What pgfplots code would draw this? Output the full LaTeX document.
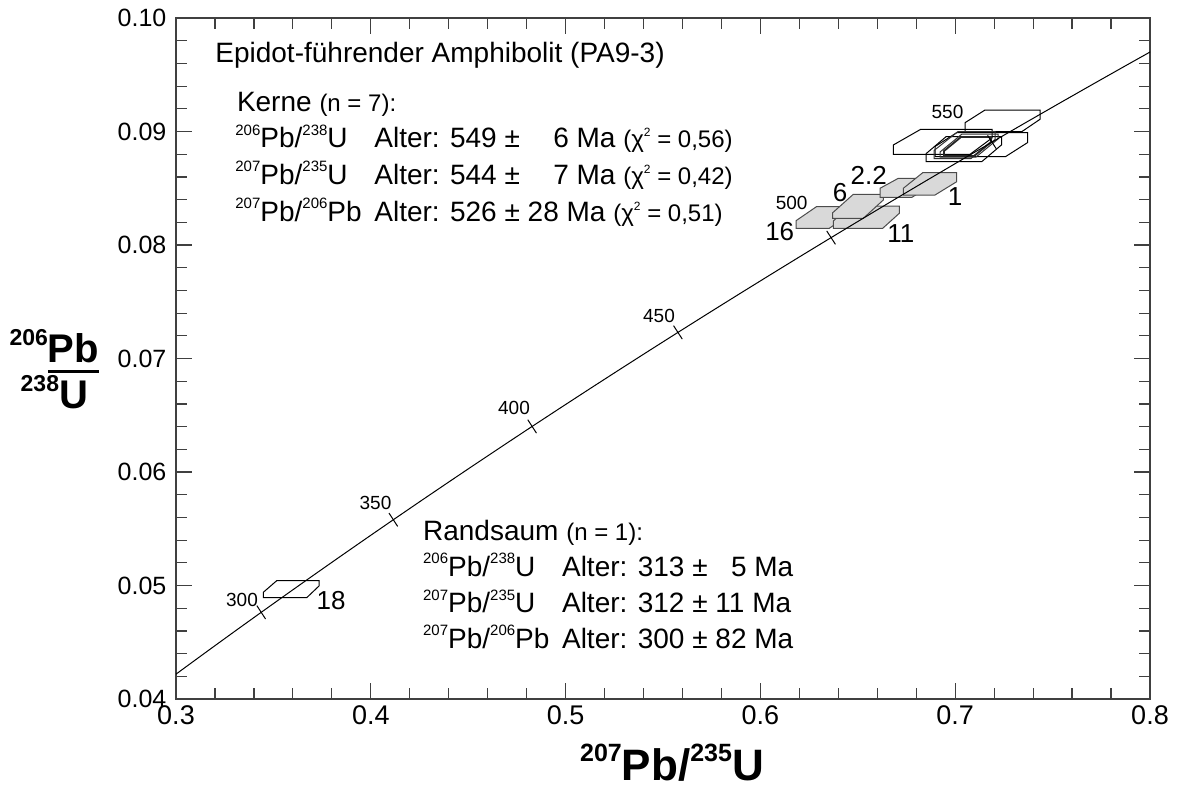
\documentclass[border=0pt]{standalone}
\usepackage{pgfplots}
\pgfplotsset{compat=1.18}
\usepackage{fontspec}
\setmainfont{Liberation Sans}
\newcommand{\mfont}{\fontsize{14}{16}\selectfont}
\newcommand{\sfont}{\fontsize{12}{14}\selectfont}
\newcommand{\su}[1]{\raisebox{0.45em}{\fontsize{7.5}{7.5}\selectfont #1}}
\newcommand{\iso}[3]{\makebox[69.5pt][l]{\su{#1}Pb/\su{#2}#3}}
\newcommand{\chisq}[1]{{\sfont (χ\raisebox{0.45em}{\fontsize{6}{6}\selectfont 2} = #1)}}
\newcommand{\agefont}{\fontsize{9.5}{11}\selectfont}
\newcommand{\boxfont}{\fontsize{13}{15}\selectfont}
\begin{document}
\begin{tikzpicture}
\useasboundingbox (0,0) rectangle (588.5pt,394.5pt);
\begin{axis}[
  at={(88pt,45pt)}, anchor=south west,
  width=487pt, height=340.5pt, scale only axis,
  xmin=0.3, xmax=0.8, ymin=0.04, ymax=0.10,
  xtick={0.3,0.4,0.5,0.6,0.7,0.8},
  xticklabels={0.3,0.4,0.5,0.6,0.7,0.8},
  ytick={0.04,0.05,0.06,0.07,0.08,0.09,0.10},
  yticklabels={0.04,0.05,0.06,0.07,0.08,0.09,0.10},
  minor x tick num=4, minor y tick num=4,
  tick align=inside, xtick pos=both, ytick pos=both,
  major tick length=7.8pt, minor tick length=5.3pt,
  axis line style={black!75, line width=0.7pt},
  every tick/.style={black!75, line width=0.6pt},
  yticklabel style={font=\fontsize{12.5}{14}\selectfont, xshift=-1.3pt},
  xticklabel style={font=\fontsize{13.5}{15}\selectfont},
]
% grey error boxes
\addplot[draw=black!70, fill=black!15, line width=0.5pt, mark=none] coordinates {(0.62890,0.083392) (0.64600,0.083392) (0.64600,0.082722) (0.63537,0.081471) (0.61828,0.081471) (0.61828,0.082141)} -- cycle;
\addplot[draw=black!70, fill=black!15, line width=0.5pt, mark=none] coordinates {(0.64594,0.083436) (0.67130,0.083436) (0.67130,0.082793) (0.66278,0.081471) (0.63742,0.081471) (0.63742,0.082115)} -- cycle;
\addplot[draw=black!70, fill=black!15, line width=0.5pt, mark=none] coordinates {(0.64769,0.084467) (0.66309,0.084467) (0.66309,0.083965) (0.65282,0.082352) (0.63712,0.082352) (0.63712,0.082846)} -- cycle;
\addplot[draw=black!70, fill=black!15, line width=0.5pt, mark=none] coordinates {(0.67079,0.085877) (0.68706,0.085877) (0.68706,0.085198) (0.67782,0.084203) (0.66140,0.084203) (0.66140,0.084996)} -- cycle;
\addplot[draw=black!70, fill=black!15, line width=0.5pt, mark=none] coordinates {(0.68332,0.086370) (0.70077,0.086370) (0.70077,0.085577) (0.68963,0.084405) (0.67336,0.084405) (0.67336,0.084996)} -- cycle;
% white error boxes
\addplot[draw=black, line width=0.5pt, mark=none] coordinates {(0.71530,0.091894) (0.74353,0.091894) (0.74353,0.091075) (0.73414,0.089982) (0.70503,0.089982) (0.70503,0.090775)} -- cycle;
\addplot[draw=black, line width=0.5pt, mark=none] coordinates {(0.68229,0.090194) (0.71889,0.090194) (0.71889,0.089427) (0.70760,0.087991) (0.66822,0.087991) (0.66822,0.088811)} -- cycle;
\addplot[draw=black, line width=0.5pt, mark=none] coordinates {(0.70092,0.089912) (0.73722,0.089912) (0.73722,0.089031) (0.72592,0.087797) (0.68963,0.087797) (0.68963,0.088678)} -- cycle;
\addplot[draw=black, line width=0.5pt, mark=none] coordinates {(0.69528,0.089542) (0.72387,0.089542) (0.72387,0.088837) (0.71360,0.087339) (0.68501,0.087339) (0.68501,0.088044)} -- cycle;
\addplot[draw=black!80, line width=0.5pt, mark=none] coordinates {(0.70144,0.090000) (0.72043,0.090000) (0.72043,0.089295) (0.70811,0.087621) (0.68912,0.087621) (0.68912,0.088326)} -- cycle;
\addplot[draw=black!80, line width=0.5pt, mark=none] coordinates {(0.70349,0.089780) (0.72197,0.089780) (0.72197,0.089339) (0.71068,0.087753) (0.69220,0.087753) (0.69220,0.088194)} -- cycle;
\addplot[draw=black!85, line width=0.9pt, mark=none] coordinates {(0.70298,0.089515) (0.71838,0.089515) (0.71838,0.089075) (0.70965,0.087841) (0.69425,0.087841) (0.69425,0.088282)} -- cycle;
% rim
\addplot[draw=black, line width=0.5pt, mark=none] coordinates {(0.35169,0.050423) (0.37341,0.050423) (0.37341,0.049956) (0.36709,0.048925) (0.34482,0.048925) (0.34482,0.049401)} -- cycle;
% concordia
\addplot[black, line width=0.5pt, mark=none] coordinates {(0.29183,0.041157) (0.30462,0.042773) (0.31753,0.044392) (0.33057,0.046014) (0.34374,0.047637) (0.35704,0.049264) (0.37047,0.050893) (0.38403,0.052524) (0.39773,0.054158) (0.41156,0.055795) (0.42553,0.057434) (0.43964,0.059075) (0.45389,0.060720) (0.46828,0.062366) (0.48281,0.064016) (0.49749,0.065667) (0.51231,0.067322) (0.52728,0.068979) (0.54239,0.070638) (0.55766,0.072300) (0.57307,0.073965) (0.58864,0.075632) (0.60437,0.077302) (0.62024,0.078975) (0.63628,0.080650) (0.65248,0.082327) (0.66883,0.084008) (0.68535,0.085691) (0.70203,0.087376) (0.71887,0.089064) (0.73588,0.090755) (0.75306,0.092448) (0.77041,0.094144) (0.78794,0.095843) (0.80563,0.097544)};
% age ticks
\addplot[only marks, mark=|, mark size=4pt, mark options={rotate=33, line width=0.5pt, black}] coordinates {(0.34374,0.047637) (0.41156,0.055795) (0.48281,0.064016) (0.55766,0.072300) (0.63628,0.080650) (0.71887,0.089064)};
% age labels
\node[font=\agefont] at (axis cs:0.33388,0.048767) {300};
\node[font=\agefont] at (axis cs:0.40241,0.057242) {350};
\node[font=\agefont] at (axis cs:0.47351,0.065612) {400};
\node[font=\agefont] at (axis cs:0.54795,0.073744) {450};
\node[font=\agefont] at (axis cs:0.61607,0.083718) {500};
\node[font=\agefont] at (axis cs:0.69605,0.091762) {550};
% spot labels
\node[font=\boxfont] at (axis cs:0.37957,0.048678) {18};
\node[font=\boxfont] at (axis cs:0.60991,0.081172) {16};
\node[font=\boxfont] at (axis cs:0.64086,0.084626) {6};
\node[font=\boxfont] at (axis cs:0.65565,0.086167) {2.2};
\node[font=\boxfont] at (axis cs:0.67207,0.081031) {11};
\node[font=\boxfont] at (axis cs:0.69990,0.084229) {1};
\end{axis}
% texts
\node[anchor=base west, inner sep=0pt, font=\mfont] at (107.5pt,363pt) {Epidot-führender Amphibolit (PA9-3)};
\node[anchor=base west, inner sep=0pt, font=\mfont] at (118.3pt,338.65pt) {Kerne {\sfont (n = 7):}};
\node[anchor=base west, inner sep=0pt, font=\mfont] at (117.5pt,320.65pt) {\iso{206}{238}{U}Alter: 549 ± \phantom{2}\hspace{5pt}6 Ma \chisq{0,56}};
\node[anchor=base west, inner sep=0pt, font=\mfont] at (117.5pt,302.35pt) {\iso{207}{235}{U}Alter: 544 ± \phantom{2}\hspace{5pt}7 Ma \chisq{0,42}};
\node[anchor=base west, inner sep=0pt, font=\mfont] at (117.5pt,284pt) {\iso{207}{206}{Pb}Alter: 526 ± 28 Ma \chisq{0,51}};
\node[anchor=base west, inner sep=0pt, font=\mfont] at (211.35pt,124.5pt) {Randsaum {\sfont (n = 1):}};
\node[anchor=base west, inner sep=0pt, font=\mfont] at (211.35pt,106.5pt) {\iso{206}{238}{U}Alter: 313 ± \phantom{1}5 Ma};
\node[anchor=base west, inner sep=0pt, font=\mfont] at (211.35pt,88.15pt) {\iso{207}{235}{U}Alter: 312 ± 11 Ma};
\node[anchor=base west, inner sep=0pt, font=\mfont] at (211.35pt,70.35pt) {\iso{207}{206}{Pb}Alter: 300 ± 82 Ma};
% axis labels
\node[anchor=base, inner sep=0pt, font=\bfseries\fontsize{22}{22}\selectfont] at (336pt,4.5pt) {\raisebox{0.42em}{\fontsize{12.5}{12.5}\selectfont 207}Pb/\raisebox{0.42em}{\fontsize{12.5}{12.5}\selectfont 235}U};
\setlength{\arrayrulewidth}{1.2pt}
\node[inner sep=0pt, font=\bfseries\fontsize{20}{20}\selectfont] at (36.75pt,207pt) {\begin{tabular}{@{}c@{}}\llap{\raisebox{0.42em}{\fontsize{11.5}{11.5}\selectfont 206}}Pb\\[-2pt]\hline\rule{0pt}{18pt}\llap{\raisebox{0.42em}{\fontsize{11.5}{11.5}\selectfont 238}}U\end{tabular}};
\end{tikzpicture}
\end{document}
